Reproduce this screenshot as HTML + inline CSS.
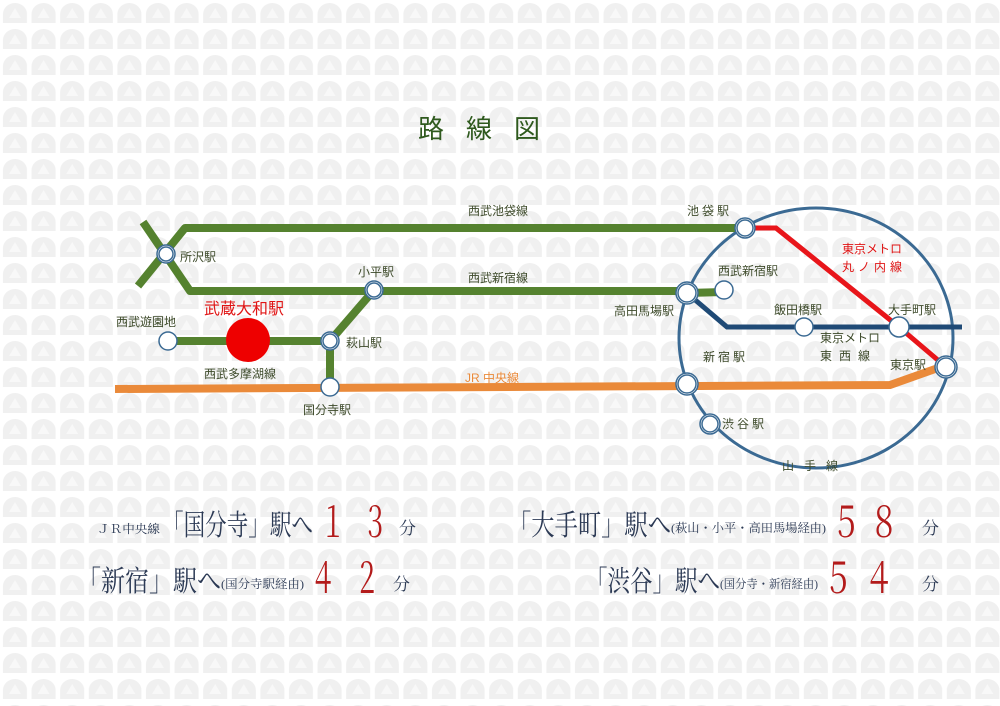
<!DOCTYPE html>
<html><head><meta charset="utf-8"><style>
html,body{margin:0;padding:0;}
body{width:1000px;height:706px;overflow:hidden;background:#fff;font-family:"Liberation Sans","Noto Sans CJK JP",sans-serif;}
svg{display:block}
.g{fill:#3d4a2a;font-size:12px;}
.s{font-family:"Liberation Serif","Noto Serif CJK SC",serif;}
</style></head><body>
<svg width="1000" height="706" viewBox="0 0 1000 706" xmlns="http://www.w3.org/2000/svg">
<defs>
<pattern id="p" x="1" y="1" width="28.6" height="26" patternUnits="userSpaceOnUse">
<path d="M2 22 V13 A12 11 0 0 1 26 13 V22 Z" fill="#f0f0f0"/>
<path d="M8 17 L14 7 L20 17 Z" fill="#f8f8f8"/>
</pattern>
</defs>
<rect width="1000" height="706" fill="url(#p)"/>
<text x="490" y="138" text-anchor="middle" font-size="26" fill="#2f5a1e" letter-spacing="22">路線図</text>

<ellipse cx="816" cy="338" rx="137" ry="130" fill="none" stroke="#3b6a93" stroke-width="3"/>
<g fill="none" stroke="#55822f" stroke-width="8" stroke-linejoin="round">
<polyline points="143,222 190,291 687,291"/>
<polyline points="138,286 185,228 745,228"/>
<polyline points="168,341 330,341 374,290"/>
<line x1="330" y1="341" x2="330" y2="387"/>
<line x1="687" y1="293" x2="724" y2="292"/>
</g>
<polyline points="115,389 890,385 938,368" fill="none" stroke="#ea8a3a" stroke-width="8"/>
<polyline points="687,293 727,327 962,327" fill="none" stroke="#1f4a76" stroke-width="5"/>
<polyline points="745,228 776,228 899,327 946,367" fill="none" stroke="#e8151a" stroke-width="5"/>

<g fill="#fff" stroke="#3b6a93" stroke-width="1.5">
<circle cx="166" cy="254" r="9"/><circle cx="166" cy="254" r="7"/>
<circle cx="374" cy="290" r="9"/><circle cx="374" cy="290" r="7"/>
<circle cx="330" cy="341" r="9"/><circle cx="330" cy="341" r="7"/>
<circle cx="330" cy="387" r="9"/>
<circle cx="168" cy="341" r="9"/>
<circle cx="745" cy="228" r="10"/><circle cx="745" cy="228" r="8"/>
<circle cx="687" cy="293" r="11"/><circle cx="687" cy="293" r="9"/>
<circle cx="724" cy="290" r="9"/>
<circle cx="804" cy="327" r="9"/>
<circle cx="899" cy="327" r="10"/>
<circle cx="946" cy="367" r="11"/><circle cx="946" cy="367" r="9"/>
<circle cx="687" cy="384" r="11"/><circle cx="687" cy="384" r="9"/>
<circle cx="710" cy="424" r="10"/><circle cx="710" cy="424" r="8"/>
</g>
<circle cx="248" cy="340" r="22" fill="#ee0000"/>

<g class="g">
<text x="468" y="215">西武池袋線</text>
<text x="468" y="282">西武新宿線</text>
<text x="180" y="261">所沢駅</text>
<text x="358" y="276">小平駅</text>
<text x="346" y="347">萩山駅</text>
<text x="116" y="326">西武遊園地</text>
<text x="204" y="378">西武多摩湖線</text>
<text x="303" y="414">国分寺駅</text>
<text x="687" y="215" letter-spacing="3">池袋駅</text>
<text x="718" y="275">西武新宿駅</text>
<text x="614" y="315">高田馬場駅</text>
<text x="774" y="314">飯田橋駅</text>
<text x="888" y="314">大手町駅</text>
<text x="820" y="342">東京メトロ</text>
<text x="820" y="360" letter-spacing="7">東西線</text>
<text x="890" y="369">東京駅</text>
<text x="703" y="361" letter-spacing="3">新宿駅</text>
<text x="722" y="428" letter-spacing="3">渋谷駅</text>
<text x="782" y="470" letter-spacing="10">山手線</text>
</g>
<text x="842" y="253" font-size="12" fill="#e01515">東京メトロ</text>
<text x="842" y="271" font-size="12" fill="#e01515" letter-spacing="4">丸ノ内線</text>
<text x="465" y="382" font-size="12" fill="#ea8a3a">JR 中央線</text>
<text x="204" y="314" font-size="16" fill="#e01515">武蔵大和駅</text>

<g class="s" fill="#2c3a55">
<text x="97" y="533" font-size="12" textLength="63" lengthAdjust="spacingAndGlyphs">ＪＲ中央線</text>
<text x="162" y="535" font-size="29" textLength="151" lengthAdjust="spacingAndGlyphs">「国分寺」駅へ</text>
<text x="77" y="591" font-size="29" textLength="144" lengthAdjust="spacingAndGlyphs">「新宿」駅へ</text>
<text x="221" y="588" font-size="12" textLength="83" lengthAdjust="spacingAndGlyphs">(国分寺駅経由)</text>
<text x="508" y="535" font-size="29" textLength="163" lengthAdjust="spacingAndGlyphs">「大手町」駅へ</text>
<text x="671" y="532" font-size="12" textLength="155" lengthAdjust="spacingAndGlyphs">(萩山・小平・高田馬場経由)</text>
<text x="585" y="591" font-size="29" textLength="135" lengthAdjust="spacingAndGlyphs">「渋谷」駅へ</text>
<text x="720" y="588" font-size="12" textLength="98" lengthAdjust="spacingAndGlyphs">(国分寺・新宿経由)</text>
<text x="399" y="534" font-size="17">分</text>
<text x="393" y="590" font-size="17">分</text>
<text x="922" y="534" font-size="17">分</text>
<text x="922" y="590" font-size="17">分</text>
</g>
<g class="s" fill="#b31b1b" font-size="42">
<text x="320" y="537" textLength="26" lengthAdjust="spacingAndGlyphs">１</text><text x="362" y="537" textLength="26" lengthAdjust="spacingAndGlyphs">３</text>
<text x="310" y="593" textLength="26" lengthAdjust="spacingAndGlyphs">４</text><text x="354" y="593" textLength="26" lengthAdjust="spacingAndGlyphs">２</text>
<text x="831" y="537" textLength="30" lengthAdjust="spacingAndGlyphs">５</text><text x="869" y="537" textLength="30" lengthAdjust="spacingAndGlyphs">８</text>
<text x="823" y="593" textLength="30" lengthAdjust="spacingAndGlyphs">５</text><text x="864" y="593" textLength="30" lengthAdjust="spacingAndGlyphs">４</text>
</g>
</svg>
</body></html>
